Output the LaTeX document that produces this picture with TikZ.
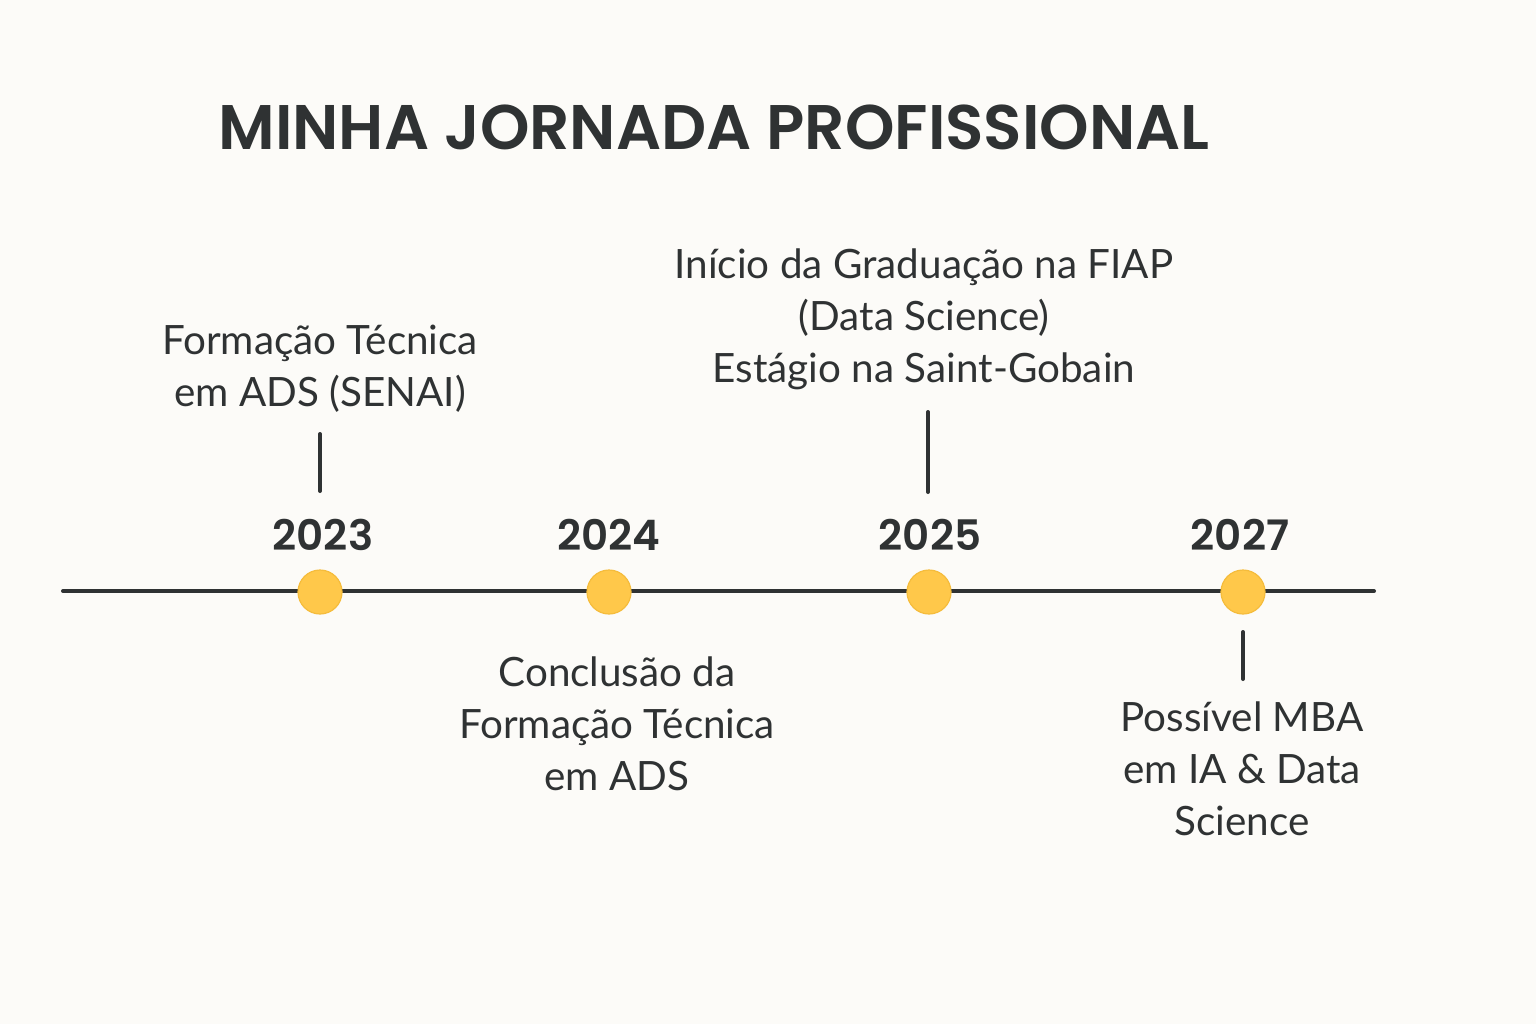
\documentclass[tikz,border=0pt]{standalone}
\usepackage{fontspec}
\setmainfont{Lato}
\newfontfamily\titlefont{Poppins}[BoldFont={Poppins SemiBold}]
\definecolor{bg}{HTML}{FCFBF8}
\definecolor{ink}{HTML}{2F3233}
\definecolor{dotfill}{HTML}{FFC84A}
\definecolor{dotedge}{HTML}{F5BC3C}
\begin{document}
\begin{tikzpicture}[x=0.5pt,y=-0.5pt,
  dot/.style={circle,fill=dotfill,draw=dotedge,line width=0.6pt,minimum size=22pt,inner sep=0pt},
  year/.style={font=\titlefont\bfseries\fontsize{21}{26}\selectfont,text=ink},
  label/.style={font=\fontsize{20.2}{26}\selectfont,text=ink,align=center},
  tick/.style={draw=ink,line width=2pt,line cap=round},
  axis/.style={draw=ink,line width=2pt,line cap=round}]
\fill[bg] (0,0) rectangle (1536,1024);
\useasboundingbox (0,0) rectangle (1536,1024);
\node[font=\titlefont\bfseries\fontsize{31.5}{38}\selectfont,text=ink] (title) at (714,127) {MINHA JORNADA PROFISSIONAL};
\coordinate (a0) at (63,591);
\coordinate (a1) at (1374,591);
\draw[axis] (a0) -- (a1);
\node[dot] (d23) at (320,592) {};
\node[dot] (d24) at (609,592) {};
\node[dot] (d25) at (929,592) {};
\node[dot] (d27) at (1243,592) {};
\node[year] (y23) at (323,535) {2023};
\node[year] (y24) at (609,535) {2024};
\node[year] (y25) at (930,535) {2025};
\node[year] (y27) at (1240,535) {2027};
\node[label] (l23) at (320,369) {Formação Técnica\\em ADS (SENAI)};
\node[label] (l24) at (617,724) {Conclusão da\\Formação Técnica\\em ADS};
\node[label] (l25) at (924,319) {Início da Graduação na FIAP\\(Data Science)\\Estágio na Saint-Gobain};
\node[label] (l27) at (1242,769) {Possível MBA\\em IA \& Data\\Science};
\coordinate (t23a) at (320,434); \coordinate (t23b) at (320,491);
\coordinate (t25a) at (928,412); \coordinate (t25b) at (928,492);
\coordinate (t27a) at (1243,632); \coordinate (t27b) at (1243,679);
\draw[tick] (t23a) -- (t23b);
\draw[tick] (t25a) -- (t25b);
\draw[tick] (t27a) -- (t27b);
\end{tikzpicture}
\end{document}
